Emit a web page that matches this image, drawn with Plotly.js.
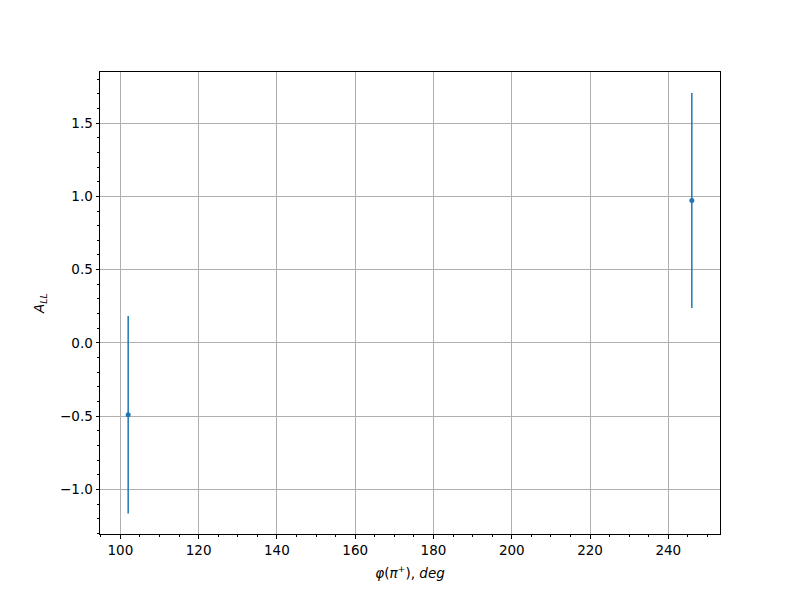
<!DOCTYPE html>
<html>
<head>
<meta charset="utf-8">
<script src="https://cdn.plot.ly/plotly-3.0.1.min.js"></script>
<style>html,body{margin:0;padding:0;background:#fff;}#chart{width:800px;height:600px;}</style>
</head>
<body>
<div id="chart"></div>
<script>
const phi = [102, 246];
const ALL = [-0.49, 0.972];
const errALL = [0.673, 0.733];

const axisCommon = {
  showline: true, linecolor: 'black', linewidth: 1, mirror: true,
  ticks: 'outside', ticklen: 3.5, tickwidth: 1, tickcolor: 'black',
  showgrid: true, gridcolor: '#b0b0b0', gridwidth: 1,
  zeroline: false,
  tickfont: {family: 'DejaVu Sans', size: 13.5, color: 'black'}
};

const trace = {
  x: phi, y: ALL, type: 'scatter', mode: 'markers',
  marker: {color: '#1f77b4', size: 5},
  error_y: {type: 'data', array: errALL, visible: true, color: '#1f77b4', thickness: 1.5, width: 0}
};

const layout = {
  width: 800, height: 600,
  margin: {l: 100, r: 80, t: 72, b: 66},
  paper_bgcolor: 'white', plot_bgcolor: 'white',
  showlegend: false,
  xaxis: Object.assign({}, axisCommon, {
    range: [94.8, 253.2], tickmode: 'array', tickvals: [100,120,140,160,180,200,220,240],
    minor: {dtick: 5, tick0: 0, ticks: 'outside', ticklen: 2, tickcolor: 'black', showgrid: false},
    title: {text: '<i>φ</i>(<i>π</i><sup>+</sup>), <i>deg</i>', font: {family: 'DejaVu Sans', size: 13.5, color: 'black'}, standoff: 11}
  }),
  yaxis: Object.assign({}, axisCommon, {
    range: [-1.303, 1.848], tickmode: 'array', tickvals: [-1.0,-0.5,0.0,0.5,1.0,1.5],
    ticktext: ['\u22121.0','\u22120.5','0.0','0.5','1.0','1.5'],
    minor: {dtick: 0.1, tick0: 0, ticks: 'outside', ticklen: 2, tickcolor: 'black', showgrid: false},
    title: {text: '<i>A</i><sub><i>LL</i></sub>', font: {family: 'DejaVu Sans', size: 13.5, color: 'black'}, standoff: 12}
  })
};

Plotly.newPlot('chart', [trace], layout, {displayModeBar: false, staticPlot: true});
</script>
</body>
</html>
